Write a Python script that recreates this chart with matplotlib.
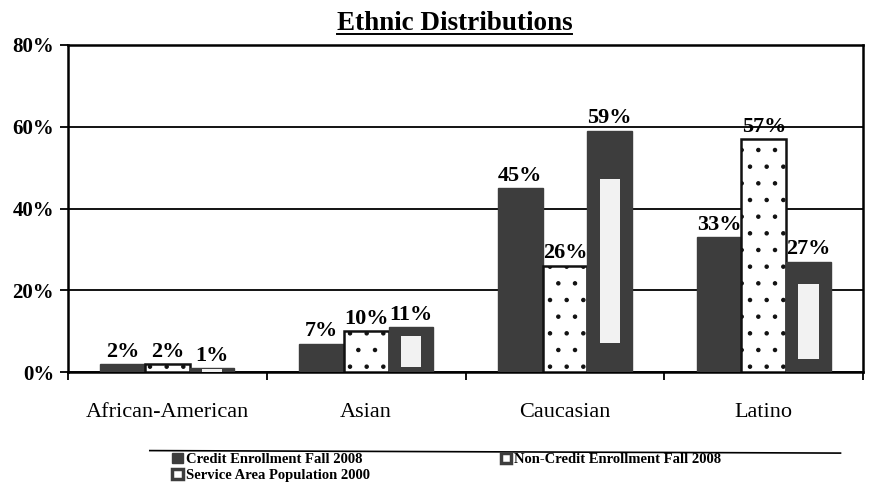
import matplotlib
matplotlib.use("Agg")
import matplotlib.pyplot as plt
from matplotlib.lines import Line2D
from matplotlib.patches import Patch
import numpy as np

categories = ["African-American", "Asian", "Caucasian", "Latino"]
credit_2008 = [2, 7, 45, 33]
noncredit_2008 = [2, 10, 26, 57]
service_pop_2000 = [1, 11, 59, 27]
series_names = ["Credit Enrollment Fall 2008",
                "Non-Credit Enrollment Fall 2008",
                "Service Area Population 2000"]
ytick_values = [0, 20, 40, 60, 80]
ytick_labels = ["0%", "20%", "40%", "60%", "80%"]

serif = ["Liberation Serif", "DejaVu Serif"]
dark = "#3d3d3d"
plt.rcParams["hatch.linewidth"] = 0.8

fig = plt.figure(figsize=(8.71, 4.99), dpi=100, facecolor="white")
ax = fig.add_axes([0.078, 0.254, 0.913, 0.656])

x = np.arange(len(categories))
w = 0.225

ax.bar(x - w, credit_2008, w, color=dark, edgecolor=dark, zorder=3)
ax.bar(x, noncredit_2008, w, color="white", edgecolor="#111111",
       hatch=".", linewidth=1.8, zorder=3)
ax.bar(x + w, service_pop_2000, w, color=dark, edgecolor=dark, zorder=3)
# lighter core inside the population bars
sp = np.array(service_pop_2000, dtype=float)
ax.bar(x + w, sp * 0.68, w * 0.45, bottom=sp * 0.12, color="#f2f2f2",
       edgecolor="none", zorder=4)

for xs, vals in ((x - w, credit_2008), (x, noncredit_2008), (x + w, service_pop_2000)):
    for xi, v in zip(xs, vals):
        ax.text(xi, v + 0.6, f"{v}%", ha="center", va="bottom",
                fontsize=16, fontweight="bold", family=serif, zorder=5)

ax.set_xlim(-0.5, 3.5)
ax.set_ylim(0, 80)
ax.set_yticks(ytick_values)
ax.set_yticklabels(ytick_labels, fontsize=15, fontweight="bold", family=serif)
ax.yaxis.grid(True, color="black", linewidth=1.3, zorder=1)
ax.set_axisbelow(True)

ax.set_xticks(np.arange(-0.5, 4.0, 1.0))
ax.set_xticklabels([])
ax.set_xticks(x, minor=True)
ax.set_xticklabels(categories, minor=True, fontsize=16, family=serif)
ax.tick_params(axis="x", which="minor", length=0, pad=22)
ax.tick_params(axis="x", which="major", length=6, width=1.3, direction="out")
ax.tick_params(axis="y", length=6, width=1.3, direction="out", pad=4)

for s in ax.spines.values():
    s.set_linewidth(1.8)

title = fig.text(0.522, 0.94, "Ethnic Distributions", ha="center", va="baseline",
                 fontsize=19.5, fontweight="bold", family=serif)
fig.canvas.draw()
bb = title.get_window_extent().transformed(fig.transFigure.inverted())
fig.add_artist(Line2D([bb.x0, bb.x1], [0.932, 0.932], color="black", linewidth=1.4))

# rule above the legend
fig.add_artist(Line2D([0.172, 0.965], [0.097, 0.092], color="black", linewidth=1.2))

handles = [
    Patch(facecolor=dark, edgecolor=dark),
    Patch(facecolor="white", edgecolor=dark, linewidth=2.5),
    Patch(facecolor="white", edgecolor=dark, linewidth=2.5),
]
labels = [series_names[0], series_names[2], series_names[1]]
fig.legend(handles, labels, loc="upper left", bbox_to_anchor=(0.198, 0.093),
           ncol=2, frameon=False, handlelength=0.7, handleheight=0.7,
           handletextpad=0.2, columnspacing=9.0, labelspacing=0.2,
           borderpad=0, borderaxespad=0,
           prop={"family": serif, "weight": "bold", "size": 10.5})

fig.savefig("out.png", dpi=100, facecolor="white")
